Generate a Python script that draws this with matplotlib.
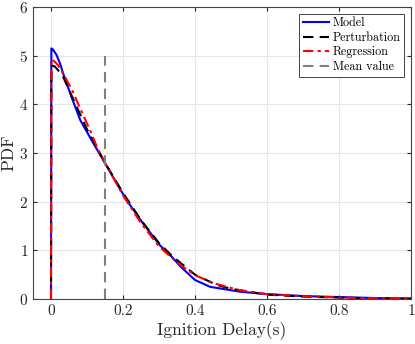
import matplotlib
matplotlib.use("Agg")
import matplotlib.pyplot as plt

plt.rcParams['font.family'] = 'serif'
plt.rcParams['font.serif'] = ['cmr10', 'DejaVu Serif']
plt.rcParams['mathtext.fontset'] = 'cm'
plt.rcParams['axes.formatter.use_mathtext'] = True

model_x = [0, 0.001, 0.005, 0.015, 0.025, 0.034, 0.057, 0.081, 0.113, 0.15, 0.21, 0.256, 0.303,
           0.339, 0.358, 0.4, 0.442, 0.5, 0.525, 0.6, 0.7, 0.8, 0.9, 1.0]
model_y = [0, 5.15, 5.13, 5.02, 4.84, 4.63, 4.15, 3.68, 3.26, 2.79, 2.03, 1.55, 1.1,
           0.84, 0.68, 0.39, 0.25, 0.18, 0.15, 0.1, 0.06, 0.04, 0.02, 0.01]

pert_x = [0, 0.001, 0.01, 0.02, 0.034, 0.067, 0.099, 0.15, 0.2, 0.25, 0.3, 0.33, 0.36, 0.4, 0.46,
          0.5, 0.6, 0.7, 0.8, 0.9, 1.0]
pert_y = [0, 4.8, 4.78, 4.7, 4.56, 4.02, 3.5, 2.8, 2.18, 1.62, 1.15, 0.93, 0.74, 0.5, 0.29,
          0.21, 0.09, 0.05, 0.03, 0.01, 0.005]

reg_x = [0, 0.001, 0.01, 0.02, 0.04, 0.06, 0.08, 0.104, 0.131, 0.15, 0.2, 0.25, 0.3, 0.35, 0.4,
         0.45, 0.488, 0.525, 0.6, 0.7, 0.8, 0.9, 1.0]
reg_y = [0, 4.92, 4.88, 4.8, 4.55, 4.27, 3.93, 3.54, 3.07, 2.8, 2.13, 1.56, 1.08, 0.75, 0.49,
         0.33, 0.25, 0.18, 0.1, 0.06, 0.03, 0.015, 0.01]

mean_value = 0.15
mean_top = 5.0

x_ticks = [0, 0.2, 0.4, 0.6, 0.8, 1]
x_ticklabels = ['0', '0.2', '0.4', '0.6', '0.8', '1']
y_ticks = [0, 1, 2, 3, 4, 5, 6]

fig = plt.figure(figsize=(4.15, 3.44), dpi=100)
ax = fig.add_axes([33/415, 1-299/344, (411-33)/415, (299-7)/344])

ax.plot(model_x, model_y, color='#0000ff', lw=1.5, label='Model')
ax.plot(pert_x, pert_y, color='black', lw=1.5, ls=(0, (5, 3)), label='Perturbation')
ax.plot(reg_x, reg_y, color='#ff0000', lw=1.5, ls=(0, (5, 2, 1.5, 2)), label='Regression')
ax.plot([mean_value, mean_value], [0, mean_top], color='#808080', lw=1.5, ls=(0, (5, 3)), label='Mean value')

ax.set_xlim(-0.05, 1)
ax.set_ylim(0, 6)
ax.set_xticks(x_ticks)
ax.set_xticklabels(x_ticklabels)
ax.set_yticks(y_ticks)
ax.grid(True, color='#e6e6e6', lw=0.8)
ax.set_axisbelow(True)
for s in ax.spines.values():
    s.set_color('#444444')
    s.set_linewidth(0.8)
ax.tick_params(direction='in', length=3, labelsize=11, colors='#262626', top=True, right=True)
ax.set_xlabel('Ignition Delay(s)', fontsize=12.5, color='#262626', labelpad=3)
ax.set_ylabel('PDF', fontsize=12.5, color='#262626', labelpad=2)

leg = ax.legend(loc='upper right', fontsize=8.7, handlelength=2.2, handletextpad=0.3,
                borderpad=0.3, labelspacing=0.2, fancybox=False, framealpha=1,
                edgecolor='#262626', borderaxespad=0.55)
leg.get_frame().set_linewidth(0.6)

fig.savefig('out.png', dpi=100)
